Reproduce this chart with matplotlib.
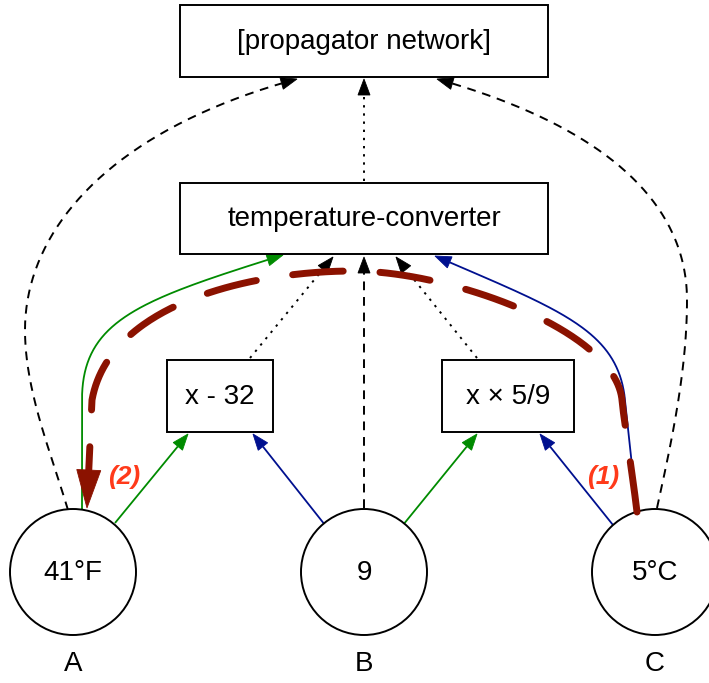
import numpy as np
import matplotlib.pyplot as plt
from matplotlib.patches import Rectangle, Circle, Polygon

plt.rcParams['font.family'] = ['Liberation Sans', 'DejaVu Sans']

# boxes: label, (x0, y0, x1, y1) in pixel space (y down)
box_labels = ['[propagator network]', 'temperature-converter', 'x - 32', 'x \u00d7 5/9']
box_extents = [(180, 5, 548, 77), (180, 183, 548, 254), (167, 360, 273, 432), (442, 360, 574, 432)]

# cells (circles)
cell_values = ['41\u00b0F', '9', '5\u00b0C']
cell_names = ['A', 'B', 'C']
cell_x = [73, 364, 655]
cell_y = 572
cell_r = 63

GREEN = '#008b00'
BLUE = '#00108f'
DARKRED = '#8b1200'
LABELRED = '#ff3a1a'

# edges: list of path segments (line = 2 pts, cubic bezier = 4 pts)
edge_a_top = [[(68, 510), (50, 450), (25, 390), (25, 330)],
              [(25, 330), (25, 230), (110, 130), (297, 79)]]
edge_c_top = [[(657, 508), (672, 440), (687, 370), (687, 300)],
              [(687, 300), (687, 200), (600, 125), (437, 79)]]
edge_tc_top = [[(364, 181), (364, 79)]]
edge_b_tc = [[(364, 508), (364, 257)]]
edge_x32_tc = [[(250, 358), (333, 257)]]
edge_x59_tc = [[(477, 358), (396, 257)]]
edge_a_tc = [[(82, 510), (82, 400)],
             [(82, 400), (82, 320), (140, 300), (283, 255)]]
edge_c_tc = [[(637, 512), (625, 400)],
             [(625, 400), (618, 330), (560, 310), (435, 256)]]
edge_a_x32 = [[(115, 523), (188, 434)]]
edge_b_x32 = [[(325, 525), (253, 434)]]
edge_b_x59 = [[(403, 525), (477, 434)]]
edge_c_x59 = [[(613, 525), (540, 434)]]
edge_red = [[(637, 512), (632, 470), (625, 430), (622, 400)],
            [(622, 400), (615, 330), (450, 271), (353, 271)],
            [(353, 271), (260, 271), (110, 300), (92, 400)],
            [(92, 400), (87, 508)]]
step_labels = ['(1)', '(2)']
step_pos = [(603, 477), (124, 477)]


def build(segments, n=120):
    pts = []
    for seg in segments:
        p = np.array(seg, dtype=float)
        t = np.linspace(0, 1, n)[:, None]
        if len(p) == 2:
            q = (1 - t) * p[0] + t * p[1]
        else:
            q = ((1 - t) ** 3 * p[0] + 3 * (1 - t) ** 2 * t * p[1]
                 + 3 * (1 - t) * t ** 2 * p[2] + t ** 3 * p[3])
        pts.append(q if not pts else q[1:])
    return np.vstack(pts)


def edge(ax, segments, color, lw, ls, head_len=16, head_w=12, z=2, capstyle='butt'):
    pts = build(segments)
    tip = pts[-1]
    d = np.linalg.norm(pts - tip, axis=1)
    idx = np.where(d >= head_len)[0][-1]
    u = tip - pts[idx]
    u = u / np.linalg.norm(u)
    base = tip - head_len * u
    line = np.vstack([pts[:idx + 1], base])
    ln, = ax.plot(line[:, 0], line[:, 1], color=color, lw=lw, zorder=z,
                  solid_capstyle=capstyle, dash_capstyle=capstyle)
    if isinstance(ls, tuple):
        ln.set_dashes(ls)
    else:
        ln.set_linestyle(ls)
    nrm = np.array([-u[1], u[0]])
    tri = [tip, base + head_w / 2 * nrm, base - head_w / 2 * nrm]
    ax.add_patch(Polygon(tri, closed=True, fc=color, ec=color, lw=0.6, zorder=z))


fig = plt.figure(figsize=(7.09, 6.83), dpi=100)
ax = fig.add_axes([0, 0, 1, 1])
ax.set_xlim(0, 709)
ax.set_ylim(683, 0)
ax.axis('off')

for label, (x0, y0, x1, y1) in zip(box_labels, box_extents):
    ax.add_patch(Rectangle((x0, y0), x1 - x0, y1 - y0, fc='white', ec='black', lw=1.4, zorder=3))
    ax.text((x0 + x1) / 2, (y0 + y1) / 2 + 1, label, ha='center', va='center', fontsize=20, zorder=4)

for cx, val, name in zip(cell_x, cell_values, cell_names):
    ax.add_patch(Circle((cx, cell_y), cell_r, fc='white', ec='black', lw=1.4, zorder=3))
    ax.text(cx, cell_y + 1, val, ha='center', va='center', fontsize=20, zorder=4)
    ax.text(cx, 664, name, ha='center', va='center', fontsize=20)

dash = (4.5, 3.5)
dot = (1.2, 3)
edge(ax, edge_a_top, 'black', 1.4, dash)
edge(ax, edge_c_top, 'black', 1.4, dash)
edge(ax, edge_tc_top, 'black', 1.4, dot)
edge(ax, edge_b_tc, 'black', 1.4, dash)
edge(ax, edge_x32_tc, 'black', 1.4, dot)
edge(ax, edge_x59_tc, 'black', 1.4, dot)
edge(ax, edge_a_tc, GREEN, 1.3, '-')
edge(ax, edge_c_tc, BLUE, 1.3, '-')
edge(ax, edge_a_x32, GREEN, 1.3, '-')
edge(ax, edge_b_x32, BLUE, 1.3, '-')
edge(ax, edge_b_x59, GREEN, 1.3, '-')
edge(ax, edge_c_x59, BLUE, 1.3, '-')
edge(ax, edge_red, DARKRED, 5.0, (7.3, 5.3), head_len=38, head_w=24, z=5, capstyle='round')

for txt, (x, y) in zip(step_labels, step_pos):
    ax.text(x, y, txt, ha='center', va='center', fontsize=19, color=LABELRED,
            fontweight='bold', fontstyle='italic', zorder=6)

fig.savefig('out.png', dpi=100)
